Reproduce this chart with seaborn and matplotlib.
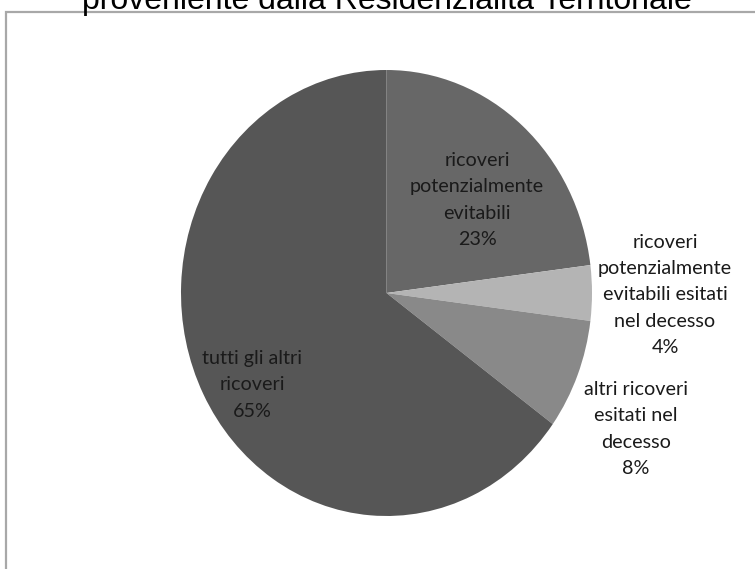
import matplotlib
matplotlib.use("Agg")
import matplotlib.pyplot as plt
import seaborn as sns
from matplotlib.patches import Rectangle

sns.set_style("white")
plt.rcParams['font.family'] = ['Lato', 'DejaVu Sans']

# Data
categories = [
    "ricoveri\npotenzialmente\nevitabili",
    "ricoveri\npotenzialmente\nevitabili esitati\nnel decesso",
    "altri ricoveri\nesitati nel\ndecesso",
    "tutti gli altri\nricoveri",
]
values = [23, 4, 8, 65]
pct_labels = ["23%", "4%", "8%", "65%"]
colors = ["#676767", "#b4b4b4", "#898989", "#565656"]
title = "proveniente dalla Residenzialità Territoriale"

W, H = 755, 569
fig = plt.figure(figsize=(W / 100, H / 100), dpi=100)
fig.patch.set_facecolor("white")

# frame (chart area border)
fig.patches.append(Rectangle((6 / W, -0.1), 1.2, (H - 12) / H + 0.1,
                             transform=fig.transFigure, fill=False,
                             edgecolor="#a8a8a8", linewidth=1.6, zorder=0))

# pie axes (ellipse as in reference)
cx, cy, rx, ry = 386.5, 293, 205.5, 223
ax = fig.add_axes([(cx - rx) / W, (H - cy - ry) / H, 2 * rx / W, 2 * ry / H])
wedges, _ = ax.pie(values, colors=colors, startangle=90, counterclock=False,
                   radius=1, wedgeprops=dict(linewidth=0))
ax.set_aspect("auto")
ax.set_xlim(-1, 1)
ax.set_ylim(-1, 1)
ax.axis("off")

def to_data(px, py):
    return (px - cx) / rx, (cy - py) / ry

label_pos = [(477, 200), (665, 295), (636, 429), (252, 385)]
for cat, pct, (px, py) in zip(categories, pct_labels, label_pos):
    x, y = to_data(px, py)
    ax.text(x, y, cat + "\n" + pct, ha="center", va="center",
            multialignment="center", fontsize=14.2, color="#1a1a1a",
            linespacing=1.65, clip_on=False)

fig.text(387 / W, 1 - 9 / H, title, ha="center", va="baseline",
         fontsize=23, family=["Liberation Sans", "DejaVu Sans"], color="black")

fig.savefig("out.png", dpi=100)
